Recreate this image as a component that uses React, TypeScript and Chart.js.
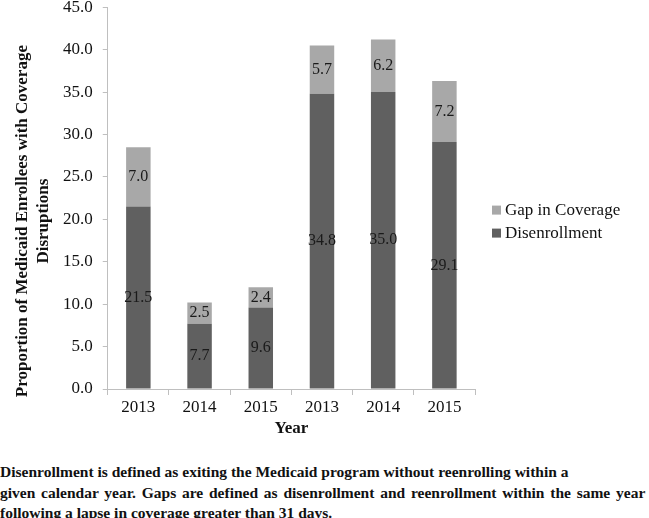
import React, { useEffect, useRef } from "react";
import { Chart, registerables } from "chart.js";

Chart.register(...registerables);

const categories = ["2013", "2014", "2015", "2013", "2014", "2015"];
const disenrollment = [21.5, 7.7, 9.6, 34.8, 35.0, 29.1];
const gapInCoverage = [7.0, 2.5, 2.4, 5.7, 6.2, 7.2];
const yTitleLines = ["Proportion of Medicaid Enrollees with Coverage", "Disruptions"];
const captionLines = [
  "Disenrollment is defined as exiting the Medicaid program without reenrolling within a",
  "given calendar year. Gaps are defined as disenrollment and reenrollment within the same year",
  "following a lapse in coverage greater than 31 days.",
];

const SERIF = '"Liberation Serif", "Times New Roman", "DejaVu Serif", serif';
const DARK = "#606060";
const LIGHT = "#a8a8a8";
const AXIS = "#bfbfbf";
const TEXT = "#111";

Chart.defaults.font.family = SERIF;

const labelPlugin = {
  id: "segLabels",
  afterDatasetsDraw(chart: any) {
    const ctx = chart.ctx;
    ctx.save();
    ctx.font = `16px ${SERIF}`;
    ctx.fillStyle = "#1a1a1a";
    ctx.textAlign = "center";
    ctx.textBaseline = "middle";
    chart.data.datasets.forEach((ds: any, di: number) => {
      const meta = chart.getDatasetMeta(di);
      meta.data.forEach((el: any, i: number) => {
        const v = ds.data[i];
        const y = (el.y + el.base) / 2;
        ctx.fillText(Number(v).toFixed(1), el.x, y);
      });
    });
    ctx.restore();
  },
};

const yTitlePlugin = {
  id: "yTitle",
  afterDraw(chart: any) {
    const ctx = chart.ctx;
    const area = chart.chartArea;
    const cy = (area.top + area.bottom) / 2 + 23;
    ctx.save();
    ctx.font = `bold 17px ${SERIF}`;
    ctx.fillStyle = TEXT;
    ctx.textAlign = "center";
    ctx.textBaseline = "middle";
    const xsPos = [23, 44];
    yTitleLines.forEach((line, i) => {
      ctx.save();
      ctx.translate(xsPos[i], cy);
      ctx.rotate(-Math.PI / 2);
      ctx.fillText(line, 0, 0);
      ctx.restore();
    });
    ctx.restore();
  },
};

const legendPlugin = {
  id: "sideLegend",
  afterDraw(chart: any) {
    const ctx = chart.ctx;
    const area = chart.chartArea;
    const x0 = area.right + 17;
    const yc = (area.top + area.bottom) / 2 + 12;
    const items = chart.data.datasets.map((ds: any) => ({ label: ds.label, color: ds.backgroundColor })).reverse();
    ctx.save();
    ctx.font = `17px ${SERIF}`;
    ctx.textAlign = "left";
    ctx.textBaseline = "middle";
    items.forEach((it: any, i: number) => {
      const y = yc + i * 23;
      ctx.fillStyle = it.color;
      ctx.fillRect(x0, y - 4.5, 9, 9);
      ctx.fillStyle = TEXT;
      ctx.fillText(it.label, x0 + 13, y);
    });
    ctx.restore();
  },
};

export default function App() {
  const ref = useRef<HTMLCanvasElement | null>(null);
  useEffect(() => {
    if (!ref.current) return;
    const chart = new Chart(ref.current, {
      type: "bar",
      data: {
        labels: categories,
        datasets: [
          { label: "Disenrollment", data: disenrollment, backgroundColor: DARK, barPercentage: 0.4, categoryPercentage: 1 },
          { label: "Gap in Coverage", data: gapInCoverage, backgroundColor: LIGHT, barPercentage: 0.4, categoryPercentage: 1 },
        ],
      },
      options: {
        responsive: false,
        animation: false,
        layout: { padding: { left: 53, right: 174, top: 0, bottom: 11 } },
        plugins: {
          tooltip: { enabled: false },
          legend: { display: false },
        },
        scales: {
          x: {
            stacked: true,
            grid: { offset: true, drawOnChartArea: false, color: AXIS, tickLength: 6 },
            border: { color: AXIS },
            ticks: { color: TEXT, font: { family: SERIF, size: 17, lineHeight: 1.0 }, padding: 4 },
            title: {
              display: true,
              text: "Year",
              color: TEXT,
              font: { family: SERIF, size: 17, weight: "bold", lineHeight: 1.0 },
              padding: { top: 0, bottom: 0 },
            },
          },
          y: {
            stacked: true,
            min: 0,
            max: 45,
            grid: { drawOnChartArea: false, color: AXIS, tickLength: 5 },
            border: { color: AXIS },
            ticks: {
              stepSize: 5,
              color: TEXT,
              font: { family: SERIF, size: 17 },
              padding: 10,
              callback: (v: any) => Number(v).toFixed(1),
            },
          },
        },
      },
      plugins: [labelPlugin, yTitlePlugin, legendPlugin],
    });
    const timers = [100, 400, 1000].map((ms) => setTimeout(() => chart.update("none"), ms));
    return () => {
      timers.forEach((t) => clearTimeout(t));
      chart.destroy();
    };
  }, []);

  return (
    <div style={{ position: "fixed", left: 0, top: 0, width: 649, height: 518, background: "#fff", overflow: "hidden" }}>
      <canvas ref={ref} width={649} height={461} style={{ display: "block", marginTop: -13 }} />
      <div
        style={{
          position: "absolute",
          left: 0,
          top: 462,
          fontFamily: SERIF,
          fontWeight: "bold",
          fontSize: 15.5,
          lineHeight: "20.5px",
          color: TEXT,
          whiteSpace: "nowrap",
        }}
      >
        {captionLines.map((l, i) => (
          <div key={i} style={i === 1 ? { wordSpacing: 1.9 } : undefined}>
            {l}
          </div>
        ))}
      </div>
    </div>
  );
}
